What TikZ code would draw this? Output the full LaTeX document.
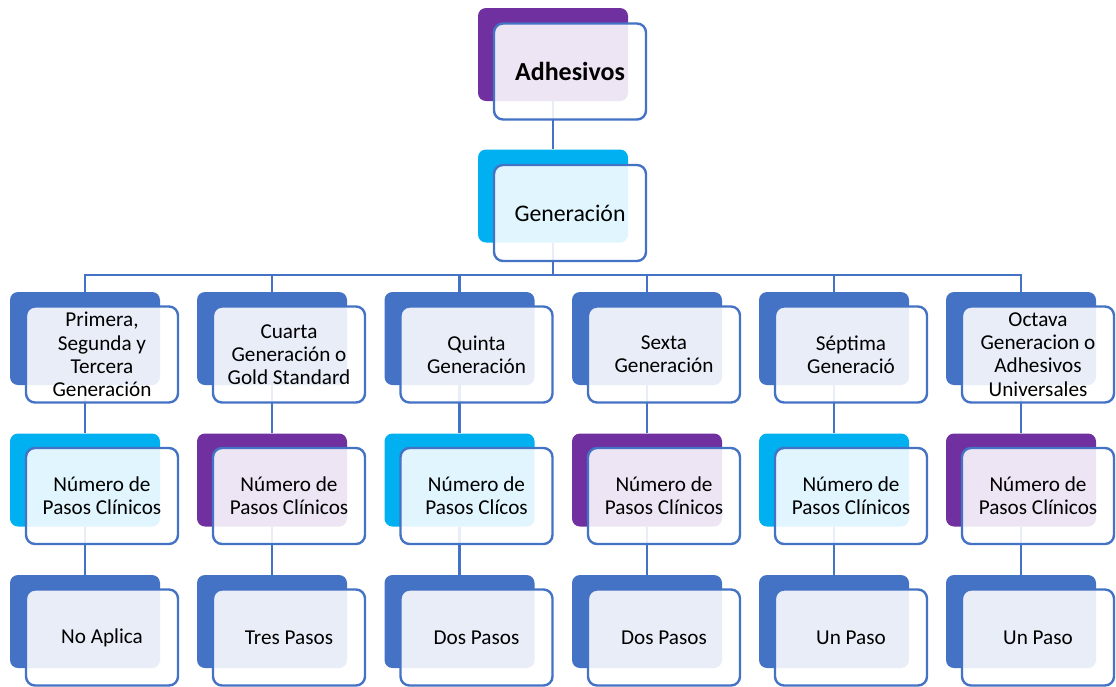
\documentclass[tikz,border=0pt]{standalone}
\usepackage{fontspec}
\setmainfont{Carlito}
\definecolor{cpurple}{HTML}{7030A0}
\definecolor{ccyan}{HTML}{00B0F0}
\definecolor{cblue}{HTML}{4472C4}
\tikzset{
  backbox/.style={draw=none, rounded corners=8pt, minimum width=150pt, minimum height=93pt, inner sep=0pt},
  frontbox/.style={draw=cblue, line width=2.4pt, rounded corners=9pt, fill=white, fill opacity=0.88, text opacity=1,
    minimum width=152pt, minimum height=96pt, inner sep=0pt, align=center,
    font=\fontsize{21.2}{23.3}\selectfont},
  conn/.style={draw=cblue, line width=2.5pt},
}
\begin{document}
\begin{tikzpicture}[x=1pt,y=-1pt]
\useasboundingbox (0,0) rectangle (1116,686);
% back boxes
\node[backbox, fill=cpurple] (top) at (553,54.5) {};
\node[backbox, fill=ccyan] (gen) at (553,196) {};
\foreach \i/\x/\c in {1/85/ccyan,2/272/cpurple,3/459.5/ccyan,4/647/cpurple,5/834/ccyan,6/1021/cpurple}{
  \node[backbox, fill=cblue] (a\i) at (\x,338.5) {};
  \node[backbox, fill=\c] (b\i) at (\x,480) {};
  \node[backbox, fill=cblue] (c\i) at (\x,621.5) {};
}
% connectors
\coordinate (bus) at (553,275);
\draw[conn] (top.south) -- (gen.north);
\draw[conn] (gen.south) -- (bus);
\draw[conn] (a1.north) |- (bus) -| (a6.north);
\foreach \i in {2,3,4,5}{\draw[conn] (a\i.north) |- (bus);}
\foreach \i in {1,...,6}{
  \draw[conn] (a\i.south) -- (b\i.north);
  \draw[conn] (b\i.south) -- (c\i.north);
}
% front boxes
\node[frontbox, font=\fontsize{26}{28}\selectfont\bfseries] (ftop) at (570,71.5) {Adhesivos};
\node[frontbox, font=\fontsize{23.8}{26}\selectfont] (fgen) at (570,213) {Generación};
\node[frontbox] (fa1) at (102,354.5) {Primera,\\Segunda y\\Tercera\\Generación};
\node[frontbox] (fa2) at (289,354.5) {Cuarta\\Generación o\\Gold Standard};
\node[frontbox] (fa3) at (476.5,354.5) {Quinta\\Generación};
\node[frontbox] (fa4) at (664,354.5) {Sexta\\Generación};
\node[frontbox] (fa5) at (851,354.5) {Séptima\\Generació};
\node[frontbox] (fa6) at (1038,354.5) {Octava\\Generacion o\\Adhesivos\\Universales};
\node[frontbox] (fb1) at (102,496) {Número de\\Pasos Clínicos};
\node[frontbox] (fb2) at (289,496) {Número de\\Pasos Clínicos};
\node[frontbox] (fb3) at (476.5,496) {Número de\\Pasos Clícos};
\node[frontbox] (fb4) at (664,496) {Número de\\Pasos Clínicos};
\node[frontbox] (fb5) at (851,496) {Número de\\Pasos Clínicos};
\node[frontbox] (fb6) at (1038,496) {Número de\\Pasos Clínicos};
\node[frontbox] (fc1) at (102,637.5) {No Aplica};
\node[frontbox] (fc2) at (289,637.5) {Tres Pasos};
\node[frontbox] (fc3) at (476.5,637.5) {Dos Pasos};
\node[frontbox] (fc4) at (664,637.5) {Dos Pasos};
\node[frontbox] (fc5) at (851,637.5) {Un Paso};
\node[frontbox] (fc6) at (1038,637.5) {Un Paso};
\end{tikzpicture}
\end{document}
